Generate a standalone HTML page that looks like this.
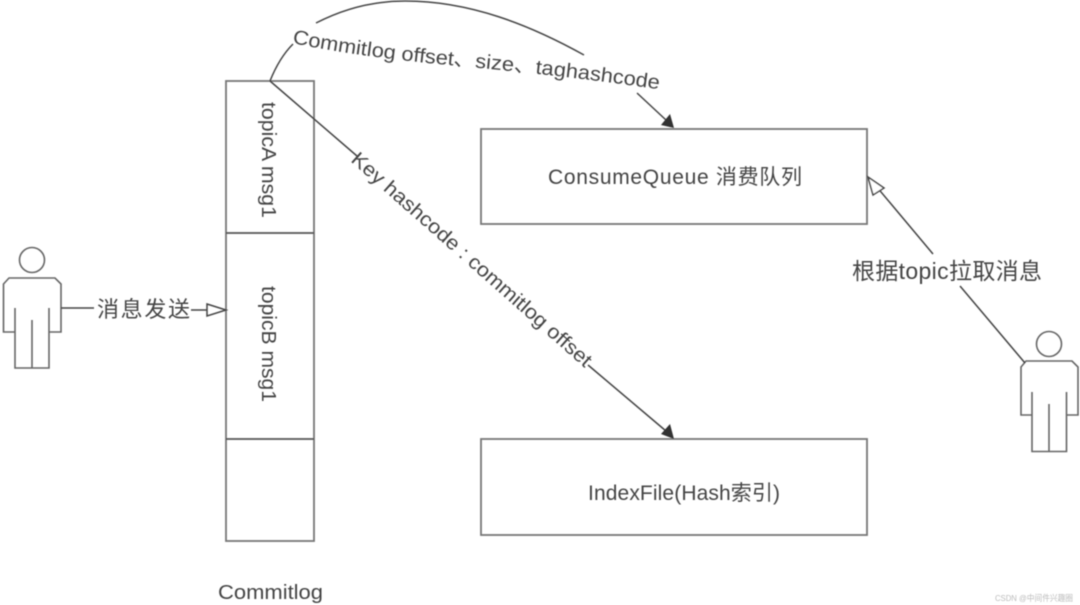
<!DOCTYPE html>
<html>
<head>
<meta charset="utf-8">
<style>
html,body{margin:0;padding:0;background:#fff;width:1080px;height:605px;overflow:hidden}
svg{display:block}
text{font-family:"Liberation Sans","Noto Sans CJK SC",sans-serif;fill:#444}
</style>
</head>
<body>
<svg width="1080" height="605" viewBox="0 0 1080 605" xmlns="http://www.w3.org/2000/svg">
<defs>
<filter id="b" x="-2%" y="-2%" width="104%" height="104%"><feGaussianBlur stdDeviation="0.5"/></filter>
<path id="cl" d="M292 43 C340 53 390 59 427 63 C480 68 570 76 664 90"/>
<path id="kh" d="M350 161 L586 369"/>
</defs>
<rect width="1080" height="605" fill="#fff"/>
<g filter="url(#b)">
<g fill="none" stroke="#777" stroke-width="1.8">
<rect x="226" y="81" width="88" height="460"/>
<line x1="226" y1="233" x2="314" y2="233" stroke="#555"/>
<line x1="226" y1="439" x2="314" y2="439" stroke="#555"/>
<rect x="481" y="129" width="386" height="95"/>
<rect x="481" y="439" width="386" height="96"/>
</g>
<g fill="none" stroke="#666" stroke-width="1.6">
<circle cx="32" cy="260" r="12.5"/>
<path d="M15 308 V332 H3.500 V284 L9 278 H55 L61 284 V332 H49 V308 M15 332 V368 H49 V332 M32 320 V368"/>
<circle cx="1049" cy="344" r="12.5"/>
<path d="M1032 392 V415 H1021 V367 L1026 361 H1072 L1078 367 V415 H1066.500 V392 M1032 415 V451.500 H1066.500 V415 M1049 404 V451.500"/>
</g>
<g fill="none" stroke="#444" stroke-width="1.5">
<line x1="61" y1="308" x2="94" y2="308"/>
<line x1="191" y1="310" x2="207" y2="310"/>
<path d="M207 304 L226 310 L207 316 Z"/>
<path d="M270 81 C276 66 284 53 293 44"/>
<path d="M316 23 C345 8 375 1 405 1 C470 1 530 25 584 55"/>
<line x1="637" y1="93" x2="666" y2="120"/>
<line x1="270" y1="81" x2="357" y2="156"/>
<line x1="588" y1="365" x2="666" y2="431"/>
<line x1="933" y1="254" x2="876" y2="186"/>
<line x1="960" y1="286" x2="1025" y2="363"/>
<path d="M868 177 L884 188 L873 195 Z" fill="#fff"/>
</g>
<path d="M674 128 L661 125 L670 114 Z" fill="#333"/>
<path d="M674 439 L661 434 L670 424 Z" fill="#333"/>
<text font-size="20" transform="translate(262 102) rotate(90)" textLength="116" lengthAdjust="spacingAndGlyphs">topicA msg1</text>
<text font-size="20" transform="translate(262 286) rotate(90)" textLength="116" lengthAdjust="spacingAndGlyphs">topicB msg1</text>
<text font-size="22" x="97" y="317" textLength="93">消息发送</text>
<text font-size="20" x="218" y="599" textLength="105" lengthAdjust="spacingAndGlyphs">Commitlog</text>
<text font-size="21" x="548" y="184" textLength="254">ConsumeQueue 消费队列</text>
<text font-size="21" x="588" y="500" textLength="192">IndexFile(Hash索引)</text>
<text font-size="23" x="852" y="279" textLength="190">根据topic拉取消息</text>
<text font-size="20"><textPath href="#cl" textLength="370" lengthAdjust="spacingAndGlyphs">Commitlog offset、size、taghashcode</textPath></text>
<text font-size="20"><textPath href="#kh" textLength="313" lengthAdjust="spacingAndGlyphs">Key hashcode : commitlog offset</textPath></text>
<text font-size="8.500" x="995" y="601" style="fill:#bbb" textLength="78" lengthAdjust="spacingAndGlyphs">CSDN @中间件兴趣圈</text>
</g>
</svg>
</body>
</html>
